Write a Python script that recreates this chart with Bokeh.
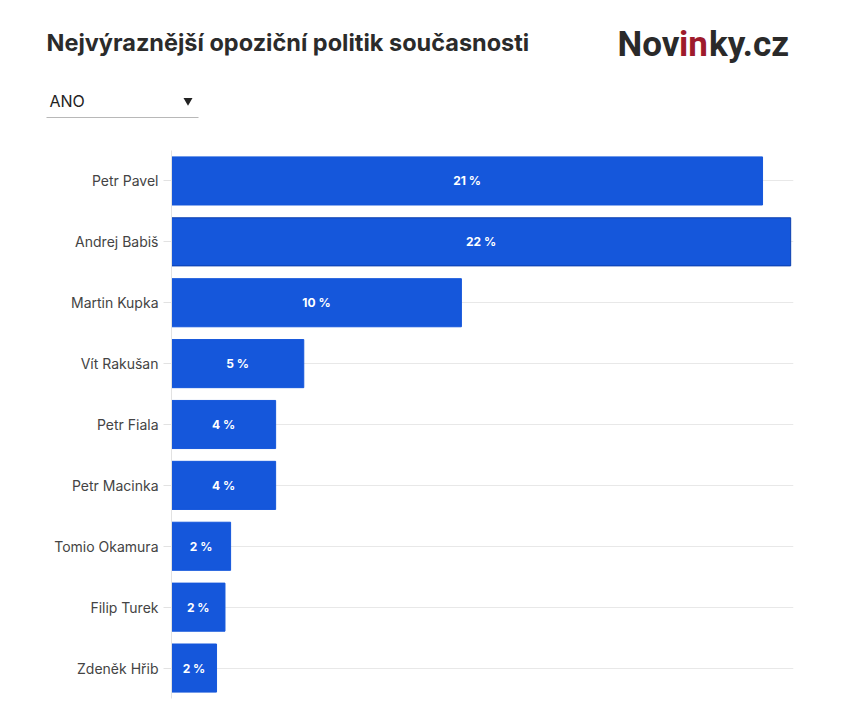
from bokeh.plotting import figure
from bokeh.layouts import column
from bokeh.models import ColumnDataSource, FactorRange, Range1d
from bokeh.core.properties import value
from bokeh.embed import file_html
from bokeh.resources import INLINE

# ---- data ----
politicians = ["Petr Pavel", "Andrej Babiš", "Martin Kupka", "Vít Rakušan", "Petr Fiala",
               "Petr Macinka", "Tomio Okamura", "Filip Turek", "Zdeněk Hřib"]
shares = [21.0, 22.0, 10.3, 4.7, 3.7, 3.7, 2.1, 1.9, 1.6]
title_text = "Nejvýraznější opoziční politik současnosti"
selector_text = "ANO"
logo_parts = ["Nov", "in", "ky.cz"]

BAR = "#1557db"
W = 848

# ---- header (pixel coordinates) ----
HH = 150
hdr = figure(width=W, height=HH, output_backend="svg", toolbar_location=None,
             x_range=Range1d(0, W), y_range=Range1d(HH, 0),
             min_border_left=0, min_border_right=0, min_border_top=0, min_border_bottom=0)
hdr.frame_align = False
hdr.axis.visible = False
hdr.grid.grid_line_color = None
hdr.outline_line_color = None

hdr.text(x=[46], y=[41.5], text=[title_text], text_font=value("Inter"), text_font_style="bold",
         text_font_size="23.5px", text_color="#2b2b2b", text_baseline="alphabetic")
hdr.text(x=[617, 678.5, 708.5], y=[44, 44, 44], text=logo_parts, text_font=value("Roboto"),
         text_font_style="bold", text_font_size="35px",
         text_color=["#2a2a2a", "#9e1a2c", "#2a2a2a"], text_baseline="alphabetic")
hdr.text(x=[49], y=[100.5], text=[selector_text], text_font=value("Inter"), text_font_size="16px",
         text_color="#222222", text_baseline="alphabetic")
hdr.scatter(x=[187.5], y=[100], marker="inverted_triangle", size=9, fill_color="#222222",
            line_color=None)
hdr.segment(x0=[46], y0=[117], x1=[198], y1=[117], line_color="#b8b8b8", line_width=1.2)

# ---- chart ----
labels = [f"{round(v)} %" for v in shares]
centers = [v / 2 for v in shares]
outline = ["#0b3fae" if v == max(shares) else BAR for v in shares]
src = ColumnDataSource(dict(name=politicians, share=shares, lab=labels, cx=centers, oc=outline))

p = figure(width=W, height=553, output_backend="svg", toolbar_location=None,
           y_range=FactorRange(factors=list(reversed(politicians)), range_padding=0),
           x_range=Range1d(0, 22.1),
           min_border_left=171, min_border_right=55, min_border_top=0, min_border_bottom=5)
p.frame_align = False
p.outline_line_color = None

p.hbar(y="name", right="share", left=0, height=0.79, source=src,
       fill_color=BAR, line_color="oc", line_width=1)
p.text(x="cx", y="name", text="lab", source=src, text_color="white",
       text_font=value("Inter"), text_font_style="bold", text_font_size="12px",
       text_align="center", text_baseline="middle")

p.xaxis.visible = False
p.xgrid.grid_line_color = None
p.ygrid.grid_line_color = "#e8e8e8"

ax = p.yaxis[0]
ax.axis_line_color = "#e2e2e2"
ax.major_tick_line_color = "#e2e2e2"
ax.major_tick_out = 8
ax.major_tick_in = 0
ax.minor_tick_line_color = None
ax.major_label_text_font = "Inter"
ax.major_label_text_font_size = "14px"
ax.major_label_text_color = "#444444"
ax.major_label_standoff = 5

layout = column(hdr, p, spacing=0)
open("out.html", "w").write(file_html(layout, INLINE))
